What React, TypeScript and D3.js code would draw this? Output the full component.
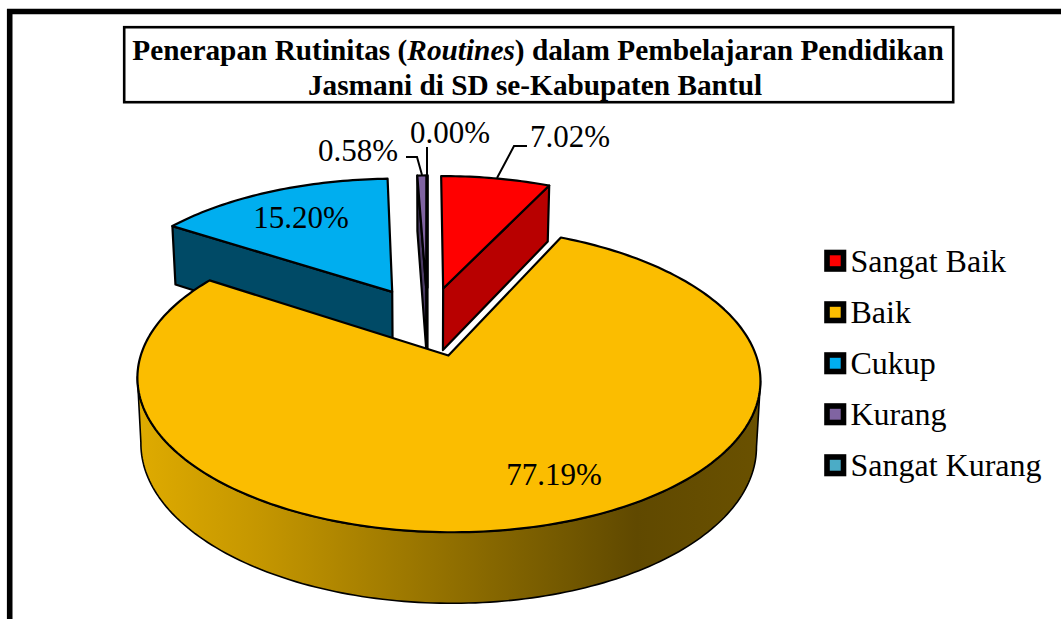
import React from "react";
import * as d3 from "d3";

const categories = ["Sangat Baik", "Baik", "Cukup", "Kurang", "Sangat Kurang"];
const values = [7.02, 77.19, 15.2, 0.58, 0];
const valueLabels = ["7.02%", "77.19%", "15.20%", "0.58%", "0.00%"];
const topColors = ["#FF0000", "#FBBD00", "#00AEEF", "#8064A2", "#4BACC6"];
const sideColors = ["#B80000", "#FBBD00", "#004A66", "#4A3A63", "#2A6373"];

const W = 1061;
const H = 619;
const serif = "'Liberation Serif', 'Times New Roman', serif";

// Projection of the unit pie disk onto the picture, with perspective
const CX = 427.5;
const CY = 321;
const A = 296.5;
const B = 138.4;
const P = 0.151;
const EXPLODE = 0.25;
const DEPTH0 = 63.2;
const DEPTH1 = 6.3;
const BOTTOM_K = 0.988;

const sx = d3.scaleLinear().domain([0, 1]).range([CX, CX + A]);
const sy = d3.scaleLinear().domain([0, 1]).range([CY, CY + B]);

type Pt = [number, number];
const top = (u: number, v: number): Pt => {
  const s = 1 / (1 - P * v);
  return [sx(u * s), sy(v * s)];
};
const bottom = (u: number, v: number): Pt => {
  const [x, y] = top(u, v);
  return [CX + (x - CX) * BOTTOM_K, y + DEPTH0 + DEPTH1 * v];
};

const arcs = d3
  .pie<number>()
  .sort(null)
  .value((d) => d)
  .startAngle(0)
  .endAngle(2 * Math.PI)(values);

const line = d3.line<Pt>();

const slices = arcs.map((a, i) => {
  const mid = (a.startAngle + a.endAngle) / 2;
  const c0u = EXPLODE * Math.sin(mid);
  const c0v = -EXPLODE * Math.cos(mid);
  const steps = Math.max(2, Math.ceil((a.endAngle - a.startAngle) / 0.02));
  const disk = d3.range(steps + 1).map((k) => {
    const t = a.startAngle + ((a.endAngle - a.startAngle) * k) / steps;
    return [c0u + Math.sin(t), c0v - Math.cos(t)] as Pt;
  });
  const apexT = top(c0u, c0v);
  const apexB = bottom(c0u, c0v);
  const topArc = disk.map(([u, v]) => top(u, v));
  const botArc = disk.map(([u, v]) => bottom(u, v));
  const n = disk.length - 1;
  // The outer wall shows only between the extreme left and right of the rim
  const iRight = d3.greatestIndex(topArc, (p) => p[0]);
  const iLeft = d3.leastIndex(topArc, (p) => p[0]);
  const lo = Math.min(iRight, iLeft);
  const hi = Math.max(iRight, iLeft);
  const topFront = topArc.slice(lo, hi + 1);
  const botFront = botArc.slice(lo, hi + 1).reverse();
  return {
    i,
    topPath: line([apexT, ...topArc]) + "Z",
    wallPath: line([...topFront, ...botFront]) + "Z",
    startFace: line([apexT, topArc[0], botArc[0], apexB]) + "Z",
    endFace: line([apexT, topArc[n], botArc[n], apexB]) + "Z",
  };
});

const LW = 2.2;

// Which radial face is visible for each back slice
const faceOf: Record<number, "startFace" | "endFace"> = {
  0: "endFace",
  2: "startFace",
  3: "startFace",
  4: "startFace",
};
const backOrder = [2, 3, 4, 0];

const legendTop = [249.5, 301, 352, 403, 454];

export default function App() {
  const baik = slices[1];
  return (
    <svg
      width={W}
      height={H}
      viewBox={`0 0 ${W} ${H}`}
      style={{ position: "absolute", left: 0, top: 0, background: "#fff" }}
      fontFamily={serif}
    >
      <defs>
        <linearGradient id="wall" gradientUnits="userSpaceOnUse" x1={137} x2={761} y1={0} y2={0}>
          <stop offset="0" stopColor="#DFAB00" />
          <stop offset="0.2" stopColor="#C49600" />
          <stop offset="0.45" stopColor="#9A7600" />
          <stop offset="0.68" stopColor="#745900" />
          <stop offset="0.8" stopColor="#604900" />
          <stop offset="1" stopColor="#6A5100" />
        </linearGradient>
      </defs>

      {/* outer frame */}
      <path d="M9.7 619 V11.5 H1061" fill="none" stroke="#000" strokeWidth={5.6} />

      {/* title */}
      <rect x={124.2} y={27.2} width={829} height={75} fill="#fff" stroke="#000" strokeWidth={2.6} />
      <text x={538} y={60} textAnchor="middle" fontWeight="bold" fontSize={29.3}>
        Penerapan Rutinitas (<tspan fontStyle="italic">Routines</tspan>) dalam Pembelajaran Pendidikan
      </text>
      <text x={535} y={95} textAnchor="middle" fontWeight="bold" fontSize={29.3}>
        Jasmani di SD se-Kabupaten Bantul
      </text>

      {/* back slices */}
      {backOrder.map((i) => (
        <g key={i} stroke="#000" strokeWidth={LW} strokeLinejoin="round">
          <path d={slices[i][faceOf[i]]} fill={sideColors[i]} />
          <path d={slices[i].topPath} fill={topColors[i]} />
        </g>
      ))}

      {/* front slice */}
      <path d={baik.wallPath} fill="url(#wall)" stroke="#000" strokeWidth={1.6} strokeLinejoin="round" />
      <path d={baik.topPath} fill={topColors[1]} stroke="#000" strokeWidth={LW} strokeLinejoin="round" />

      {/* leader lines */}
      <g fill="none" stroke="#000" strokeWidth={2}>
        <path d="M497 178 L514 146 H527" />
        <path d="M406 157 H417 L422 175" />
        <path d="M427 147 V176" />
      </g>

      {/* value labels */}
      <g fontSize={31} fill="#000">
        <text x={530} y={147}>{valueLabels[0]}</text>
        <text x={554} y={485} textAnchor="middle">{valueLabels[1]}</text>
        <text x={301} y={228} textAnchor="middle">{valueLabels[2]}</text>
        <text x={318} y={161}>{valueLabels[3]}</text>
        <text x={410} y={143}>{valueLabels[4]}</text>
      </g>

      {/* legend */}
      {categories.map((c, i) => (
        <g key={c}>
          <rect x={827} y={legendTop[i] + 3} width={16.5} height={16.5} fill={topColors[i]} stroke="#000" strokeWidth={5.6} />
          <text x={850.5} y={legendTop[i] + 22} fontSize={32} fill="#000">{c}</text>
        </g>
      ))}
    </svg>
  );
}
